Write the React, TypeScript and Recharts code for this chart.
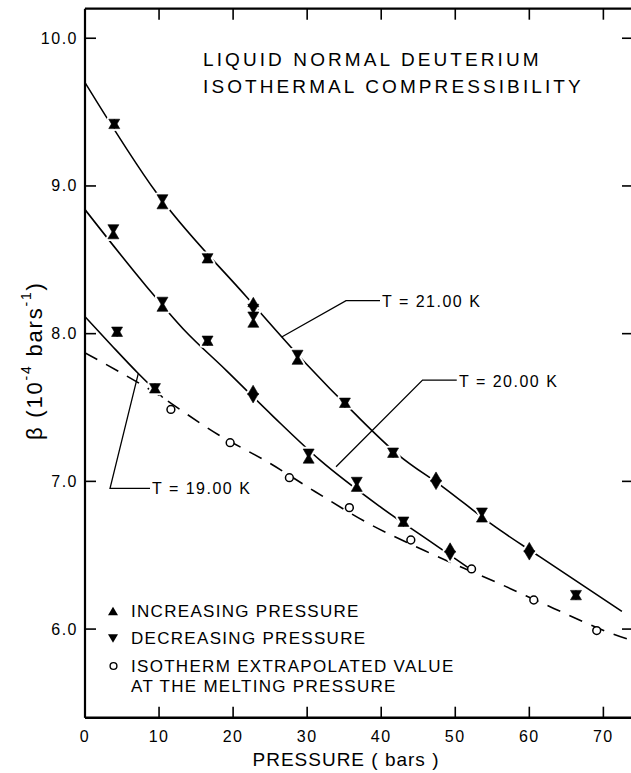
import React from 'react';
import { ComposedChart, Line, Scatter, XAxis, YAxis } from 'recharts';

// ---------- axis ticks ----------
const pressureTicks = [0, 10, 20, 30, 40, 50, 60, 70];
const topTicks = [10, 20, 30, 40, 50, 60, 70];
const betaTicks = [6, 7, 8, 9, 10];

// ---------- fitted isotherm curves ----------
const t21Curve = [
  { x: 0, y: 9.7 }, { x: 9.7, y: 8.95 }, { x: 21.8, y: 8.25 }, { x: 29.8, y: 7.8 },
  { x: 36.2, y: 7.47 }, { x: 42.3, y: 7.18 }, { x: 48.4, y: 6.96 }, { x: 54.9, y: 6.71 },
  { x: 61.4, y: 6.49 }, { x: 72.5, y: 6.12 },
];
const t20Curve = [
  { x: 0, y: 8.84 }, { x: 8.3, y: 8.32 }, { x: 13.3, y: 8.03 }, { x: 19.1, y: 7.75 },
  { x: 25.4, y: 7.44 }, { x: 31.7, y: 7.145 }, { x: 39.8, y: 6.83 }, { x: 47.0, y: 6.58 },
  { x: 52.5, y: 6.39 },
];
const t19Curve = [
  { x: 0, y: 8.115 }, { x: 3.6, y: 7.92 }, { x: 7.2, y: 7.73 }, { x: 10.5, y: 7.568 },
];
const meltingCurve = [
  { x: 0, y: 7.87 }, { x: 8.8, y: 7.62 }, { x: 18.2, y: 7.31 }, { x: 24.7, y: 7.13 },
  { x: 31.1, y: 6.93 }, { x: 38.1, y: 6.72 }, { x: 45.9, y: 6.53 }, { x: 56.3, y: 6.3 },
  { x: 63.3, y: 6.14 }, { x: 70.6, y: 5.98 }, { x: 74, y: 5.92 },
];

// ---------- measured points ----------
const t21Increasing = [
  { x: 3.95, y: 9.42 }, { x: 10.46, y: 8.877 }, { x: 16.55, y: 8.51 }, { x: 22.73, y: 8.214 },
  { x: 22.73, y: 8.075 }, { x: 28.7, y: 7.824 }, { x: 35.1, y: 7.532 }, { x: 41.6, y: 7.194 },
  { x: 47.4, y: 7.032 }, { x: 53.6, y: 6.756 }, { x: 60.0, y: 6.555 }, { x: 66.3, y: 6.23 },
];
const t21Decreasing = [
  { x: 3.95, y: 9.42 }, { x: 10.46, y: 8.909 }, { x: 16.55, y: 8.51 }, { x: 22.73, y: 8.167 },
  { x: 22.73, y: 8.115 }, { x: 28.7, y: 7.856 }, { x: 35.1, y: 7.532 }, { x: 41.6, y: 7.194 },
  { x: 47.4, y: 6.976 }, { x: 53.6, y: 6.788 }, { x: 60.0, y: 6.499 }, { x: 66.3, y: 6.23 },
];
const t20Increasing = [
  { x: 3.83, y: 8.674 }, { x: 10.46, y: 8.183 }, { x: 16.55, y: 7.952 }, { x: 22.7, y: 7.619 },
  { x: 30.2, y: 7.155 }, { x: 36.7, y: 6.964 }, { x: 43.0, y: 6.727 }, { x: 49.3, y: 6.552 },
];
const t20Decreasing = [
  { x: 3.83, y: 8.706 }, { x: 10.46, y: 8.215 }, { x: 16.55, y: 7.952 }, { x: 22.7, y: 7.563 },
  { x: 30.2, y: 7.187 }, { x: 36.7, y: 6.996 }, { x: 43.0, y: 6.727 }, { x: 49.3, y: 6.496 },
];
const t19Increasing = [{ x: 4.33, y: 8.013 }, { x: 9.45, y: 7.63 }];
const t19Decreasing = [{ x: 4.33, y: 8.013 }, { x: 9.45, y: 7.63 }];
const meltingPoints = [
  { x: 11.6, y: 7.487 }, { x: 19.6, y: 7.262 }, { x: 27.6, y: 7.025 }, { x: 35.7, y: 6.822 },
  { x: 44.0, y: 6.603 }, { x: 52.2, y: 6.407 }, { x: 60.6, y: 6.197 }, { x: 69.1, y: 5.99 },
];

// ---------- label leader lines ----------
const leader21 = [{ x: 39.84, y: 8.224 }, { x: 35.25, y: 8.224 }, { x: 26.56, y: 7.977 }];
const leader20 = [{ x: 50.2, y: 7.686 }, { x: 45.58, y: 7.686 }, { x: 33.9, y: 7.099 }];
const leader19 = [{ x: 8.78, y: 6.953 }, { x: 3.38, y: 6.953 }, { x: 7.2, y: 7.731 }];

const increasing = [...t21Increasing, ...t20Increasing, ...t19Increasing];
const decreasing = [...t21Decreasing, ...t20Decreasing, ...t19Decreasing];

const FONT = '"Liberation Sans", Arial, sans-serif';
const TW = 5.5;
const TH = 4.7;

const upPath = (cx: number, cy: number, w = TW, h = TH) =>
  `M${cx},${cy - h}L${cx + w},${cy + h}L${cx - w},${cy + h}Z`;
const downPath = (cx: number, cy: number, w = TW, h = TH) =>
  `M${cx},${cy + h}L${cx + w},${cy - h}L${cx - w},${cy - h}Z`;

const UpTri = (p: any) =>
  p.cx == null ? null : <path d={upPath(p.cx, p.cy)} fill="#000" stroke="#000" strokeWidth={0.6} />;
const DownTri = (p: any) =>
  p.cx == null ? null : <path d={downPath(p.cx, p.cy)} fill="#000" stroke="#000" strokeWidth={0.6} />;
const UpHalo = (p: any) =>
  p.cx == null ? null : <path d={upPath(p.cx, p.cy)} fill="#fff" stroke="#fff" strokeWidth={4.5} strokeLinejoin="round" />;
const DownHalo = (p: any) =>
  p.cx == null ? null : <path d={downPath(p.cx, p.cy)} fill="#fff" stroke="#fff" strokeWidth={4.5} strokeLinejoin="round" />;
const OpenCircle = (p: any) =>
  p.cx == null ? null : <circle cx={p.cx} cy={p.cy} r={3.9} fill="#fff" stroke="#000" strokeWidth={1.5} />;

const BottomTick = (p: any) => (
  <g>
    <line x1={p.x} x2={p.x} y1={p.y} y2={p.y - 11} stroke="#000" strokeWidth={1.6} />
    <text x={p.x} y={p.y + 19} textAnchor="middle" dominantBaseline="central" fontSize={16}
      fontFamily={FONT} letterSpacing={1.5} fill="#000">{p.payload.value}</text>
  </g>
);
const TopTick = (p: any) => (
  <line x1={p.x} x2={p.x} y1={p.y} y2={p.y + 11} stroke="#000" strokeWidth={1.6} />
);
const LeftTick = (p: any) => (
  <g>
    <line x1={p.x} x2={p.x + 11} y1={p.y} y2={p.y} stroke="#000" strokeWidth={1.6} />
    <text x={p.x - 7} y={p.y} textAnchor="end" dominantBaseline="central" fontSize={16}
      fontFamily={FONT} letterSpacing={1.5} fill="#000">{Number(p.payload.value).toFixed(1)}</text>
  </g>
);
const RightTick = (p: any) => (
  <line x1={p.x} x2={p.x - 11} y1={p.y} y2={p.y} stroke="#000" strokeWidth={1.6} />
);

const lineCommon = {
  dataKey: 'y',
  dot: false,
  activeDot: false,
  isAnimationActive: false,
  stroke: '#000',
  legendType: 'none' as const,
};

export default function App() {
  return (
    <div style={{ position: 'absolute', left: 0, top: 0, width: 631, height: 773, overflow: 'hidden', background: '#fff' }}>
      <ComposedChart width={640} height={773} margin={{ top: 0, right: 0, bottom: 0, left: 0 }}>
        <XAxis dataKey="x" type="number" domain={[0, 74]} ticks={pressureTicks} height={55.3}
          axisLine={{ stroke: '#000', strokeWidth: 2.4 }} tickLine={false} tickSize={0} tickMargin={0}
          tick={<BottomTick />} allowDataOverflow interval={0} />
        <XAxis xAxisId="top" orientation="top" dataKey="x" type="number" domain={[0, 74]} ticks={topTicks}
          height={8.7} axisLine={{ stroke: '#000', strokeWidth: 2.2 }} tickLine={false} tickSize={0}
          tickMargin={0} tick={<TopTick />} allowDataOverflow interval={0} />
        <YAxis type="number" domain={[5.4, 10.2]} ticks={betaTicks} width={85}
          axisLine={{ stroke: '#000', strokeWidth: 2.2 }} tickLine={false} tickSize={0} tickMargin={0}
          tick={<LeftTick />} allowDataOverflow interval={0} />
        <YAxis yAxisId="right" orientation="right" type="number" domain={[5.4, 10.2]} ticks={betaTicks}
          width={7} axisLine={{ stroke: '#000', strokeWidth: 2.2 }} tickLine={false} tickSize={0}
          tickMargin={0} tick={<RightTick />} allowDataOverflow interval={0} />

        <Line {...lineCommon} data={meltingCurve} type="monotone" strokeWidth={1.6} strokeDasharray="14 10" />
        <Line {...lineCommon} data={t21Curve} type="monotone" strokeWidth={1.6} />
        <Line {...lineCommon} data={t20Curve} type="monotone" strokeWidth={1.6} />
        <Line {...lineCommon} data={t19Curve} type="monotone" strokeWidth={1.6} />
        <Line {...lineCommon} data={leader21} type="linear" strokeWidth={1.3} />
        <Line {...lineCommon} data={leader20} type="linear" strokeWidth={1.3} />
        <Line {...lineCommon} data={leader19} type="linear" strokeWidth={1.3} />

        <Scatter data={increasing} dataKey="y" shape={<UpHalo />} isAnimationActive={false} legendType="none" />
        <Scatter data={decreasing} dataKey="y" shape={<DownHalo />} isAnimationActive={false} legendType="none" />
        <Scatter data={increasing} dataKey="y" shape={<UpTri />} isAnimationActive={false} legendType="none" />
        <Scatter data={decreasing} dataKey="y" shape={<DownTri />} isAnimationActive={false} legendType="none" />
        <Scatter data={meltingPoints} dataKey="y" shape={<OpenCircle />} isAnimationActive={false} legendType="none" />
      </ComposedChart>

      <svg width={631} height={773} style={{ position: 'absolute', left: 0, top: 0, pointerEvents: 'none' }}
        fontFamily={FONT} fill="#000">
        <text x={203} y={59} fontSize={19} letterSpacing={3.1} dominantBaseline="central">LIQUID NORMAL DEUTERIUM</text>
        <text x={203} y={86} fontSize={19} letterSpacing={3.1} dominantBaseline="central">ISOTHERMAL COMPRESSIBILITY</text>

        <text x={382} y={301} fontSize={16} letterSpacing={1.5} dominantBaseline="central">T = 21.00 K</text>
        <text x={459} y={381} fontSize={16} letterSpacing={1.5} dominantBaseline="central">T = 20.00 K</text>
        <text x={152} y={488} fontSize={16} letterSpacing={1.5} dominantBaseline="central">T = 19.00 K</text>

        <path d={upPath(113, 611, 5, 4.2)} fill="#000" />
        <path d={downPath(113, 638.5, 5, 4.2)} fill="#000" />
        <circle cx={113.5} cy={666} r={3.4} fill="#fff" stroke="#000" strokeWidth={1.4} />
        <text x={131} y={611} fontSize={17} letterSpacing={1.3} dominantBaseline="central">INCREASING PRESSURE</text>
        <text x={131} y={638.5} fontSize={17} letterSpacing={1.3} dominantBaseline="central">DECREASING PRESSURE</text>
        <text x={131} y={666} fontSize={17} letterSpacing={1.3} dominantBaseline="central">ISOTHERM EXTRAPOLATED VALUE</text>
        <text x={131} y={686} fontSize={17} letterSpacing={1.3} dominantBaseline="central">AT THE MELTING PRESSURE</text>

        <text x={346} y={759} fontSize={19} letterSpacing={1} textAnchor="middle" dominantBaseline="central">PRESSURE ( bars )</text>

        <g transform="translate(34 440) rotate(-90)">
          <text x={0} y={0} fontSize={22} letterSpacing={1.8} dominantBaseline="central">
            β (10<tspan dy={-8} fontSize={14}>-4</tspan><tspan dy={8}> bars</tspan><tspan dy={-8} fontSize={14}>-1</tspan><tspan dy={8}>)</tspan>
          </text>
        </g>
      </svg>
    </div>
  );
}
